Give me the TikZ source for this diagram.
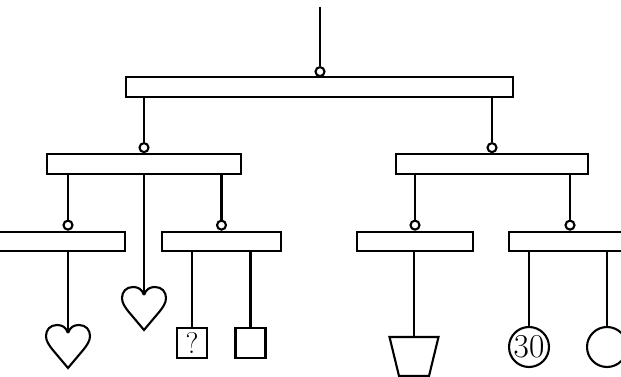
\documentclass[tikz,border=0pt]{standalone}
\usepackage{tikz}
\usetikzlibrary{positioning}

\tikzset{
  bar/.style={draw, rectangle, minimum height=0.39cm, inner sep=0pt},
  hook/.style={draw, circle, minimum size=0.18cm, inner sep=0pt, anchor=south},
  box/.style={draw, rectangle, minimum size=0.6cm, inner sep=0pt, font=\fontsize{17}{17}\selectfont},
  ball/.style={draw, circle, minimum size=0.8cm, inner sep=0pt, font=\fontsize{19}{19}\selectfont},
  heart/.pic={
    \draw (0,0) .. controls (-2,-6) and (-6,-8) .. (-11,-8)
      .. controls (-18,-8) and (-22,-3) .. (-22,3)
      .. controls (-22,8) and (-19,12) .. (-16,16) -- (0,35) -- (16,16)
      .. controls (19,12) and (22,8) .. (22,3)
      .. controls (22,-3) and (18,-8) .. (11,-8)
      .. controls (6,-8) and (2,-6) .. (0,0);
  }
}

\begin{document}
\begin{tikzpicture}[x=0.02cm, y=-0.02cm, line width=1.2pt]

  \useasboundingbox (0,0) rectangle (621,377);

  % bars
  \node[bar, minimum width=7.74cm] (top) at (319.5,87) {};
  \node[bar, minimum width=3.88cm] (L) at (144,164) {};
  \node[bar, minimum width=3.84cm] (R) at (492,164) {};
  \node[bar, minimum width=2.56cm] (LL) at (61,241.5) {};
  \node[bar, minimum width=2.38cm] (LR) at (221.5,241.5) {};
  \node[bar, minimum width=2.32cm] (RL) at (415,241.5) {};
  \node[bar, minimum width=2.44cm] (RR) at (570,241.5) {};

  % weights
  \coordinate (h1) at (68,333);
  \coordinate (h2) at (144,295);
  \node[box] (q) at (192,343) {?};
  \node[box] (sq) at (250.5,343) {};
  \coordinate (bk) at (414,337);
  \node[ball] (b30) at (529,347) {30};
  \node[ball] (b2) at (607,347) {};

  % hooks
  \node[hook] (htop) at (320,77.2) {};
  \node[hook] (hL) at (L.north) {};
  \node[hook] (hR) at (R.north) {};
  \node[hook] (hLL) at (LL.north -| h1) {};
  \node[hook] (hLR) at (LR.north) {};
  \node[hook] (hRL) at (RL.north) {};
  \node[hook] (hRR) at (RR.north) {};

  % strings
  \coordinate (ceil) at (320,7);
  \draw (ceil) -- (htop.north);
  \draw (top.south -| hL) -- (hL.north);
  \draw (top.south -| hR) -- (hR.north);
  \draw (L.south -| hLL) -- (hLL.north);
  \draw (L.south -| hLR) -- (hLR.north);
  \draw (R.south -| hRL) -- (hRL.north);
  \draw (R.south -| hRR) -- (hRR.north);
  \draw (LL.south -| h1) -- (h1);
  \draw (L.south -| h2) -- (h2);
  \draw (LR.south -| q) -- (q.north);
  \draw (LR.south -| sq) -- (sq.north);
  \draw (RL.south -| bk) -- (bk);
  \draw (RR.south -| b30) -- (b30.north);
  \draw (RR.south -| b2) -- (b2.north);

  % hearts and bucket
  \pic at (h1) {heart};
  \pic at (h2) {heart};
  \draw (bk) ++(-24.5,0) -- ++(49,0) -- ++(-9.5,39) -- ++(-30,0) -- cycle;

\end{tikzpicture}
\end{document}
